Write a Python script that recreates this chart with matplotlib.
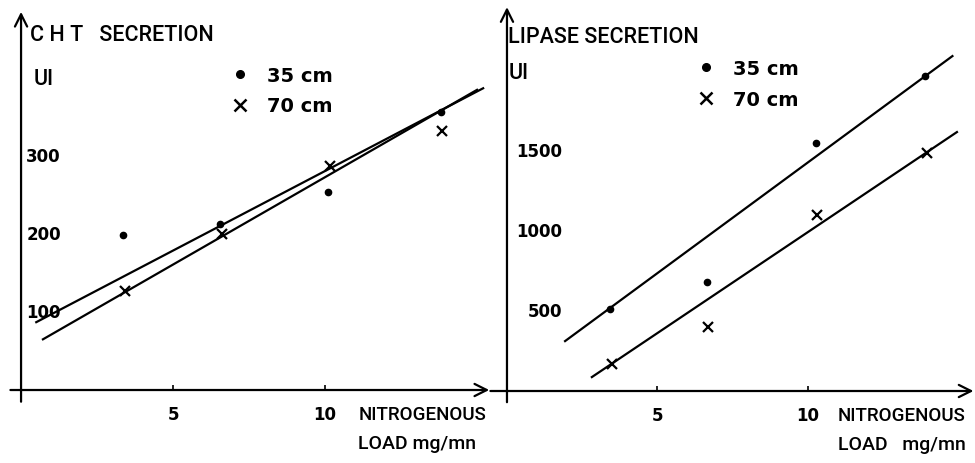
import matplotlib.pyplot as plt
from matplotlib.lines import Line2D

# CHT secretion (UI) against nitrogenous load (mg/mn)
cht_load_35 = [3.36, 6.55, 10.1, 13.8]
cht_ui_35 = [199, 213, 254, 357]
cht_load_70 = [3.42, 6.6, 10.16, 13.85]
cht_ui_70 = [127, 200, 287, 332]
cht_fit35_x = [0.5, 15.2]
cht_fit35_y = [87, 387]
cht_fit70_x = [0.72, 15.0]
cht_fit70_y = [65, 385]

# lipase secretion (UI) against nitrogenous load (mg/mn)
lip_load_35 = [3.42, 6.64, 10.27, 13.9]
lip_ui_35 = [515, 681, 1550, 1968]
lip_load_70 = [3.49, 6.68, 10.3, 13.95]
lip_ui_70 = [169, 400, 1100, 1488]
lip_fit35_x = [1.93, 14.8]
lip_fit35_y = [312, 2094]
lip_fit70_x = [2.82, 14.95]
lip_fit70_y = [87, 1619]

x_ticks = [5, 10]
cht_ticks = [100, 200, 300]
lip_ticks = [500, 1000, 1500]

LABEL_FONT = ['Roboto', 'DejaVu Sans']
NUM_FONT = ['DejaVu Sans']
plt.rcParams['font.family'] = LABEL_FONT

fig = plt.figure(figsize=(9.75, 4.64), dpi=100)


def draw_panel(ax, xlim, ylim, x_end, y_end, load35, ui35, load70, ui70,
               fit35, fit70, yticks, ytick_x, ytick_ha, title, title_pos,
               ui_pos, nitro_x, load_text, leg_anchor):
    ax.set_xlim(*xlim)
    ax.set_ylim(*ylim)
    ax.set_axis_off()

    # axes drawn as arrows crossing at the origin
    arrow = dict(arrowstyle='->', lw=1.6, color='black', mutation_scale=22,
                 shrinkA=0, shrinkB=0)
    ax.annotate('', xy=(x_end[1], 0), xytext=(x_end[0], 0), arrowprops=arrow,
                annotation_clip=False)
    ax.annotate('', xy=(0, y_end[1]), xytext=(0, y_end[0]), arrowprops=arrow,
                annotation_clip=False)

    tick_h = (ylim[1] - ylim[0]) * 0.012
    ax.vlines(x_ticks, 0, tick_h, color='black', lw=1.2)
    for t in x_ticks:
        ax.annotate(str(t), xy=(t, 0), xytext=(0, -17), textcoords='offset points',
                    ha='center', va='center', fontsize=12, fontweight='bold',
                    family=NUM_FONT, annotation_clip=False)
    for v in yticks:
        ax.text(ytick_x, v, str(v), ha=ytick_ha, va='center', fontsize=12,
                fontweight='bold', family=NUM_FONT)

    ax.plot(fit35[0], fit35[1], color='black', lw=1.6, clip_on=False)
    ax.plot(fit70[0], fit70[1], color='black', lw=1.6, clip_on=False)
    ax.plot(load35, ui35, 'o', color='black', ms=4.5, clip_on=False)
    ax.plot(load70, ui70, 'x', color='black', ms=7, mew=1.6, clip_on=False)

    ax.text(title_pos[0], title_pos[1], title, ha='left', va='center',
            fontsize=15.5, fontweight='medium')
    ax.text(ui_pos[0], ui_pos[1], 'UI', ha='left', va='center', fontsize=15.5,
            fontweight='medium')
    ax.annotate('NITROGENOUS', xy=(nitro_x, 0), xytext=(0, -17),
                textcoords='offset points', ha='left', va='center', fontsize=13.5,
                fontweight='medium', annotation_clip=False)
    ax.annotate(load_text, xy=(nitro_x, 0), xytext=(0, -38),
                textcoords='offset points', ha='left', va='center', fontsize=14,
                fontweight='medium', annotation_clip=False)

    handles = [Line2D([], [], ls='none', marker='o', color='black', ms=5.5),
               Line2D([], [], ls='none', marker='x', color='black', ms=8, mew=1.8)]
    ax.legend(handles, ['35 cm', '70 cm'], loc='upper left',
              bbox_to_anchor=leg_anchor, bbox_transform=fig.transFigure,
              frameon=False, borderpad=0, handlelength=1.0,
              handletextpad=0.9, labelspacing=0.6,
              prop=dict(size=14, weight='bold', family=NUM_FONT))


ax1 = fig.add_axes([0.006, 0.1237, 0.502, 0.857])
draw_panel(ax1, (-0.5, 15.6), (-20, 490), (-0.35, 15.4), (-15, 485),
           cht_load_35, cht_ui_35, cht_load_70, cht_ui_70,
           (cht_fit35_x, cht_fit35_y), (cht_fit70_x, cht_fit70_y),
           cht_ticks, 0.17, 'left', 'C H T   SECRETION', (0.3, 456),
           (0.4, 399), 11.1, 'LOAD mg/mn', (0.226, 0.877))

ax2 = fig.add_axes([0.503, 0.1207, 0.497, 0.879])
draw_panel(ax2, (-0.55, 15.55), (-100, 2450), (-0.55, 15.5), (-70, 2400),
           lip_load_35, lip_ui_35, lip_load_70, lip_ui_70,
           (lip_fit35_x, lip_fit35_y), (lip_fit70_x, lip_fit70_y),
           lip_ticks, 1.85, 'right', 'LIPASE SECRETION', (0.03, 2219),
           (0.05, 1994), 11.0, 'LOAD   mg/mn', (0.704, 0.892))

fig.savefig('out.png', dpi=100)
